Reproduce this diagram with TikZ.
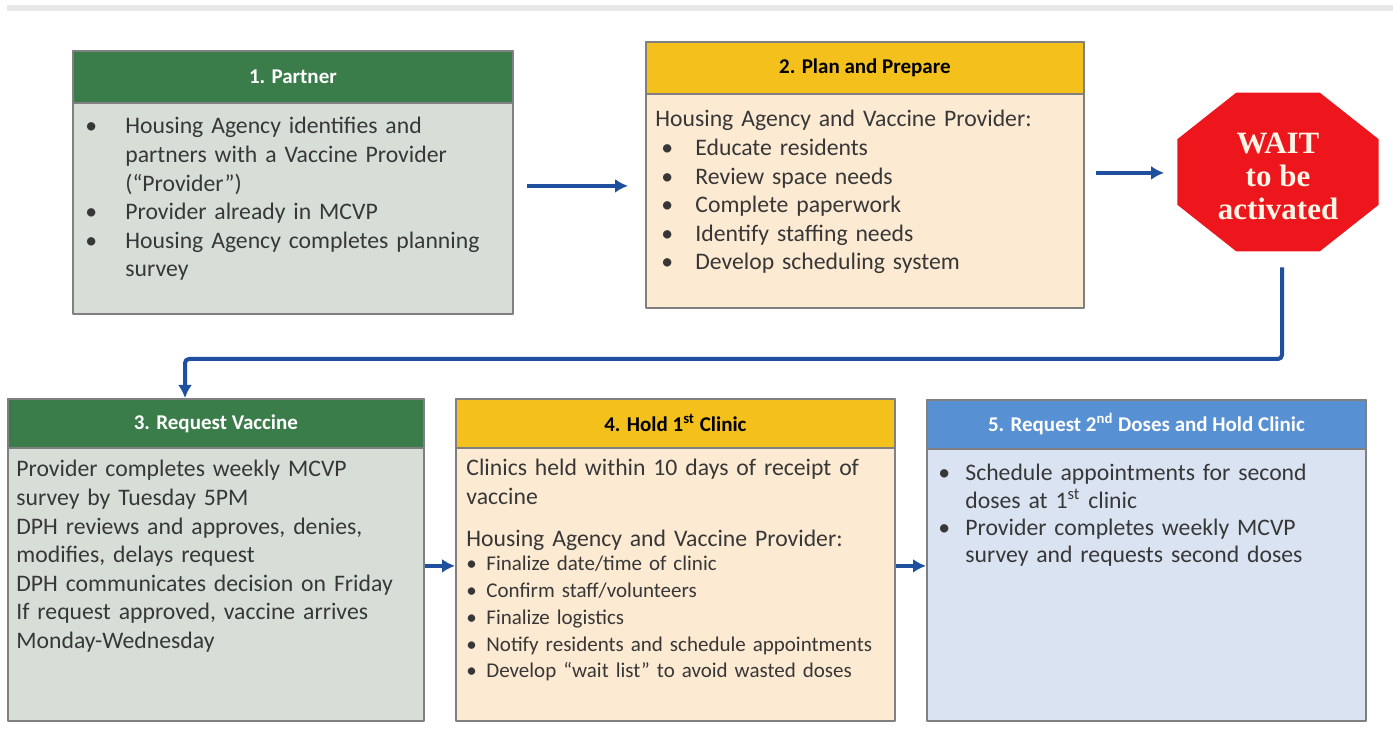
\documentclass[tikz,border=0pt]{standalone}
\usepackage{fontspec}
\setmainfont{Carlito}
\newfontfamily\signfont{Liberation Serif}
\usetikzlibrary{arrows.meta}
\definecolor{greenhead}{RGB}{58,125,74}
\definecolor{greenbody}{RGB}{215,222,216}
\definecolor{yellowhead}{RGB}{244,193,28}
\definecolor{yellowbody}{RGB}{253,234,210}
\definecolor{bluehead}{RGB}{88,144,212}
\definecolor{bluebody}{RGB}{218,227,242}
\definecolor{boxline}{RGB}{128,128,128}
\definecolor{flowblue}{RGB}{31,80,160}
\definecolor{stopred}{RGB}{237,22,28}
\definecolor{signtext}{RGB}{255,244,230}
\definecolor{textgray}{RGB}{55,55,55}
\definecolor{topbar}{RGB}{232,232,232}
\newcommand{\dotitem}[1][20pt]{\makebox[#1][l]{\textbullet}}
\newcommand{\contline}[1][20pt]{\hspace*{#1}}
\begin{document}
\begin{tikzpicture}[x=.5pt,y=-.5pt,line join=round,
    stepbox/.style={draw=boxline,line width=.9pt,inner sep=0pt,anchor=north west},
    headbox/.style={draw=boxline,line width=.9pt,inner sep=0pt,anchor=north,font=\fontsize{10.5pt}{12pt}\selectfont\bfseries},
    bodytext/.style={anchor=base west,inner sep=0pt,align=left,text width=#1,text=textgray,font=\fontsize{11.85pt}{14.3pt}\selectfont},
    flow/.style={draw=flowblue,line width=2pt,-{Latex[length=6.5pt,width=7pt]}}]
  \useasboundingbox (0,0) rectangle (1393,732);
  \fill[topbar] (7,5) rectangle (1393,11);

  % first row
  \node[stepbox,fill=greenbody,minimum width=220pt,minimum height=131.5pt] (partner) at (72,50) {};
  \node[headbox,fill=greenhead,text=white,minimum width=220pt,minimum height=26pt] (partnerhead) at (partner.north) {1. Partner};
  \node[bodytext=205pt] (partnertext) at (85,134) {\dotitem Housing Agency identifies and\\
    \contline partners with a Vaccine Provider\\ \contline(“Provider”)\\
    \dotitem Provider already in MCVP\\
    \dotitem Housing Agency completes planning\\ \contline survey};

  \node[stepbox,fill=yellowbody,minimum width=219pt,minimum height=133pt] (plan) at (645,41) {};
  \node[headbox,fill=yellowhead,minimum width=219pt,minimum height=26pt] (planhead) at (plan.north) {2. Plan and Prepare};
  \node[bodytext=210pt] (plantext) at (655,127) {Housing Agency and Vaccine Provider:\\
    \hspace*{3pt}\dotitem[17pt]Educate residents\\
    \hspace*{3pt}\dotitem[17pt]Review space needs\\
    \hspace*{3pt}\dotitem[17pt]Complete paperwork\\
    \hspace*{3pt}\dotitem[17pt]Identify staffing needs\\
    \hspace*{3pt}\dotitem[17pt]Develop scheduling system};

  \coordinate (signcentre) at (1278,172);
  \fill[stopred,shift={(signcentre)}] (22.5:108.8 and 86) -- (67.5:108.8 and 86) -- (112.5:108.8 and 86)
    -- (157.5:108.8 and 86) -- (202.5:108.8 and 86) -- (247.5:108.8 and 86)
    -- (292.5:108.8 and 86) -- (337.5:108.8 and 86) -- cycle;
  \node[font=\signfont\bfseries\fontsize{15.5pt}{16.5pt}\selectfont,text=signtext,align=center,
    minimum width=100.5pt,minimum height=79.5pt,inner sep=0pt,yshift=-2pt] (waitsign) at (signcentre) {WAIT\\to be\\activated};

  % second row
  \node[stepbox,fill=greenbody,minimum width=208pt,minimum height=161pt] (request) at (7,398) {};
  \node[headbox,fill=greenhead,text=white,minimum width=208pt,minimum height=24.5pt] (requesthead) at (request.north) {3. Request Vaccine};
  \node[bodytext=200pt] (requesttext) at (16,477) {Provider completes weekly MCVP\\ survey by Tuesday 5PM\\
    DPH reviews and approves, denies,\\ modifies, delays request\\
    DPH communicates decision on Friday\\
    If request approved, vaccine arrives\\ Monday-Wednesday};

  \node[stepbox,fill=yellowbody,minimum width=219.5pt,minimum height=161pt] (clinic) at (455,398) {};
  \node[headbox,fill=yellowhead,minimum width=219.5pt,minimum height=24.5pt] (clinichead) at (clinic.north) {4. Hold 1\textsuperscript{st} Clinic};
  \node[bodytext=210pt] (clinictext) at (466,476) {Clinics held within 10 days of receipt of\\ vaccine\\[6.5pt]
    Housing Agency and Vaccine Provider:};
  \node[bodytext=210pt,font=\fontsize{10.5pt}{13.35pt}\selectfont] (clinicsteps) at (466,571) {\dotitem[10pt]Finalize date/time of clinic\\
    \dotitem[10pt]Confirm staff/volunteers\\
    \dotitem[10pt]Finalize logistics\\
    \dotitem[10pt]Notify residents and schedule appointments\\
    \dotitem[10pt]Develop “wait list” to avoid wasted doses};

  \node[stepbox,fill=bluebody,minimum width=219.5pt,minimum height=160.5pt] (second) at (926,399) {};
  \node[headbox,fill=bluehead,text=white,minimum width=219.5pt,minimum height=24.5pt] (secondhead) at (second.north) {5. Request 2\textsuperscript{nd} Doses and Hold Clinic};
  \node[bodytext=210pt,font=\fontsize{11.85pt}{13.65pt}\selectfont] (secondtext) at (938,481) {\dotitem[13.5pt]Schedule appointments for second\\
    \contline[13.5pt]doses at 1\textsuperscript{st} clinic\\
    \dotitem[13.5pt]Provider completes weekly MCVP\\
    \contline[13.5pt]survey and requests second doses};

  % connectors
  \draw[flow,shorten <=6.5pt,shorten >=8.5pt] ([yshift=-1.75pt]partner.east) -- ([yshift=-1.75pt]partner.east -| plan.west);
  \draw[flow,shorten <=5.5pt,shorten >=6.5pt] ([yshift=1pt]plan.east) -- ([yshift=1pt]plan.east -| waitsign.west);
  \coordinate (loopback) at (185,359);
  \draw[flow,rounded corners=2pt,shorten <=5.75pt] ([xshift=2pt]waitsign.south) |- (loopback) -- (loopback |- request.north);
  \draw[flow] ([yshift=-3pt]request.east) -- ([yshift=-3pt]request.east -| clinic.west);
  \draw[flow] ([yshift=-3pt]clinic.east) -- ([yshift=-3pt]clinic.east -| second.west);
\end{tikzpicture}
\end{document}
